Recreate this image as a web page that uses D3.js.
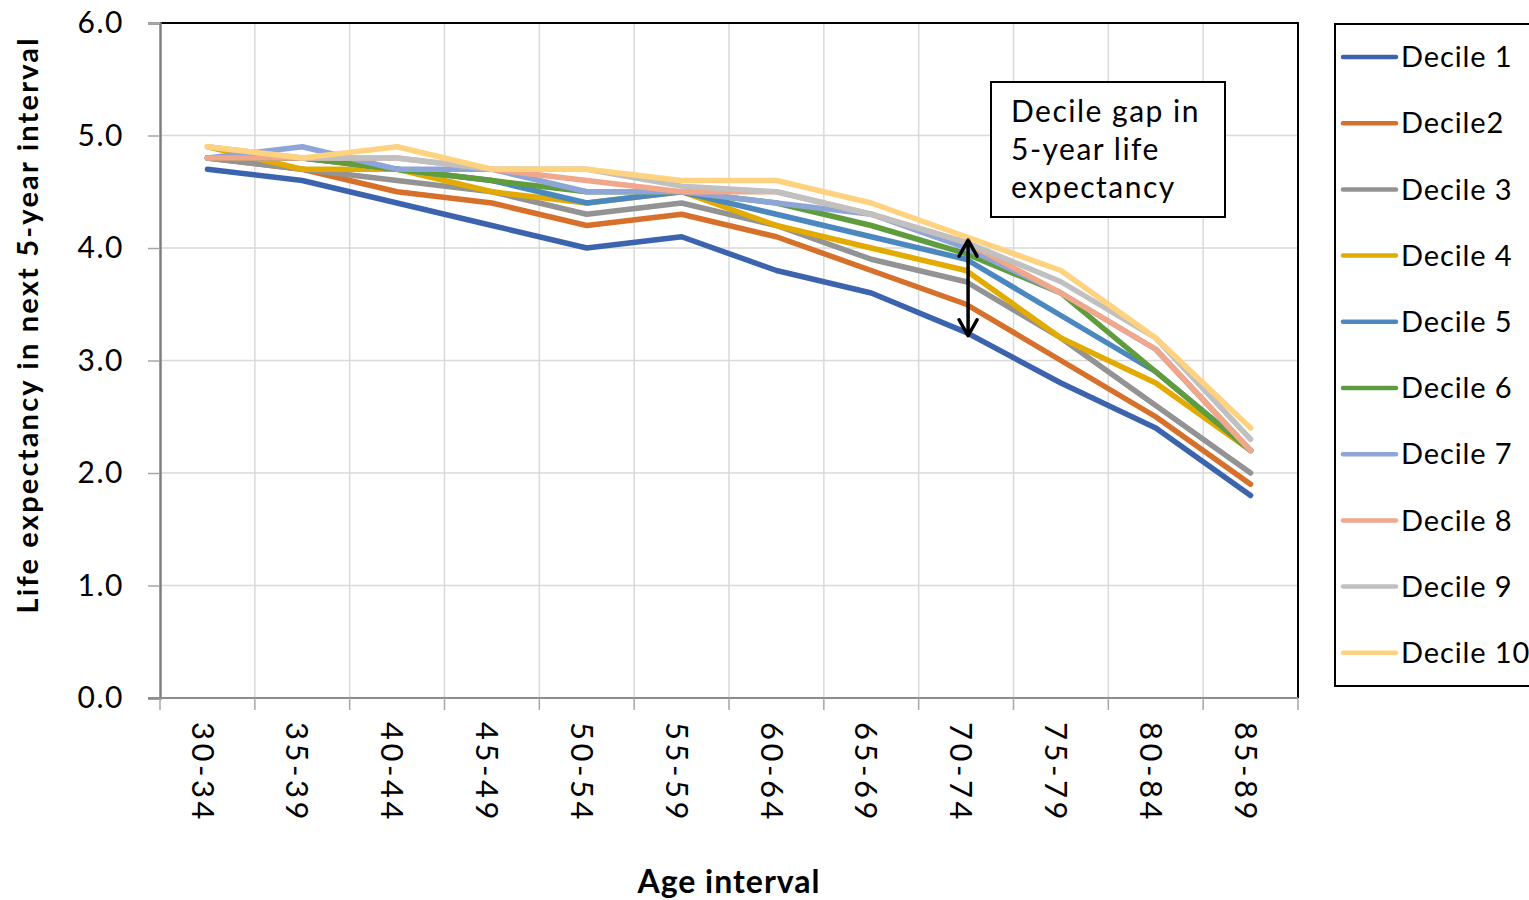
<!DOCTYPE html>
<html>
<head>
<meta charset="utf-8">
<script src="https://cdn.jsdelivr.net/npm/d3@7"></script>
<style>
  body { margin: 0; background: #fff; }
  text { font-family: Lato, "Open Sans", sans-serif; fill: #000; }
</style>
</head>
<body>
<div id="viz"></div>
<script>

// age bands on the x axis
var ages = ["30-34","35-39","40-44","45-49","50-54","55-59","60-64","65-69","70-74","75-79","80-84","85-89"];

// life expectancy in next 5-year interval, per decile
var decile1  = [4.7, 4.6, 4.4, 4.2, 4.0, 4.1, 3.8, 3.6, 3.25, 2.8, 2.4, 1.8];
var decile2  = [4.8, 4.7, 4.5, 4.4, 4.2, 4.3, 4.1, 3.8, 3.5, 3.0, 2.5, 1.9];
var decile3  = [4.8, 4.7, 4.6, 4.5, 4.3, 4.4, 4.2, 3.9, 3.7, 3.2, 2.6, 2.0];
var decile4  = [4.9, 4.7, 4.7, 4.5, 4.4, 4.5, 4.2, 4.0, 3.8, 3.2, 2.8, 2.2];
var decile5  = [4.8, 4.8, 4.7, 4.6, 4.4, 4.5, 4.3, 4.1, 3.9, 3.4, 2.9, 2.2];
var decile6  = [4.8, 4.8, 4.7, 4.6, 4.5, 4.5, 4.4, 4.2, 3.95, 3.6, 2.9, 2.2];
var decile7  = [4.8, 4.9, 4.7, 4.7, 4.5, 4.5, 4.4, 4.3, 4.0, 3.6, 3.1, 2.2];
var decile8  = [4.8, 4.8, 4.8, 4.7, 4.6, 4.5, 4.5, 4.3, 4.05, 3.6, 3.1, 2.2];
var decile9  = [4.9, 4.8, 4.8, 4.7, 4.7, 4.55, 4.5, 4.3, 4.05, 3.7, 3.2, 2.3];
var decile10 = [4.9, 4.8, 4.9, 4.7, 4.7, 4.6, 4.6, 4.4, 4.1, 3.8, 3.2, 2.4];

var seriesNames = ["Decile 1","Decile2","Decile 3","Decile 4","Decile 5","Decile 6","Decile 7","Decile 8","Decile 9","Decile 10"];
var seriesValues = [decile1, decile2, decile3, decile4, decile5, decile6, decile7, decile8, decile9, decile10];
var colors = ["#3b63ae","#d6702b","#939393","#e3aa00","#4b88bf","#5f9c3d","#8ea5d8","#f1a78a","#c0c0c0","#ffd27f"];

var yTicks = [0, 1, 2, 3, 4, 5, 6];

// the double arrow marking the gap at 70-74
var gapAge = "70-74";
var gapTop = 4.07;
var gapBottom = 3.22;
var noteLines = ["Decile gap in", "5-year life", "expectancy"];

var width = 1529;
var height = 900;
var plotL = 160, plotR = 1298, plotT = 23, plotB = 698;

var svg = d3.select("#viz")
	.append("svg")
	.attr("width", width)
	.attr("height", height);

var x = d3.scalePoint().domain(ages).range([plotL, plotR]).padding(0.5);
var xb = d3.scaleBand().domain(ages).range([plotL, plotR]);
var y = d3.scaleLinear().domain([0, 6]).range([plotB, plotT]);

// gridlines
svg.append("g")
	.selectAll("line")
	.data(yTicks.slice(1))
	.enter()
	.append("line")
	.attr("x1", plotL).attr("x2", plotR)
	.attr("y1", d=>y(d)).attr("y2", d=>y(d))
	.attr("stroke", "#d9d9d9").attr("stroke-width", 1.5);

svg.append("g")
	.selectAll("line")
	.data(ages.slice(1))
	.enter()
	.append("line")
	.attr("x1", d=>xb(d)).attr("x2", d=>xb(d))
	.attr("y1", plotT).attr("y2", plotB)
	.attr("stroke", "#d9d9d9").attr("stroke-width", 1.5);

// plot frame: black top and right
svg.append("path")
	.attr("d", `M${plotL},${plotT}H${plotR}V${plotB}`)
	.attr("fill", "none").attr("stroke", "#000").attr("stroke-width", 2);

// y axis
var yAxis = svg.append("g")
	.attr("transform", `translate(${plotL},0)`)
	.call(d3.axisLeft(y).tickValues(yTicks).tickFormat(d3.format(".1f")).tickSize(12).tickPadding(24));
yAxis.select(".domain").attr("stroke", "#7f7f7f").attr("stroke-width", 2.5);
yAxis.selectAll(".tick line").attr("stroke", "#a6a6a6").attr("stroke-width", 1.5);
yAxis.selectAll(".tick text")
	.style("font-size", "30px")
	.style("letter-spacing", "1.5px")
	.style("font-family", "Lato, sans-serif")
	.attr("fill", "#000");

// x axis: ticks at band edges, labels at centres
var xEdges = ages.map(d=>xb(d)).concat([plotR]);
svg.append("line")
	.attr("x1", plotL - 12).attr("x2", plotR)
	.attr("y1", plotB).attr("y2", plotB)
	.attr("stroke", "#8c8c8c").attr("stroke-width", 2);
svg.append("g")
	.selectAll("line")
	.data(xEdges)
	.enter()
	.append("line")
	.attr("x1", d=>d).attr("x2", d=>d)
	.attr("y1", plotB).attr("y2", plotB + 12)
	.attr("stroke", "#a6a6a6").attr("stroke-width", 1.5);

svg.append("g")
	.selectAll("text")
	.data(ages)
	.enter()
	.append("text")
	.attr("transform", d=>`translate(${x(d) - 5},${plotB + 24}) rotate(90)`)
	.attr("dy", "0.35em")
	.style("font-size", "31px")
	.style("letter-spacing", "3.5px")
	.text(d=>d);

// lines
var line = d3.line()
	.x((d, i)=>x(ages[i]))
	.y(d=>y(d));

svg.append("g")
	.selectAll("path")
	.data(seriesValues)
	.enter()
	.append("path")
	.attr("d", line)
	.attr("fill", "none")
	.attr("stroke", (d, i)=>colors[i])
	.attr("stroke-width", 5.5)
	.attr("stroke-linejoin", "round")
	.attr("stroke-linecap", "round");

// annotation box
var note = svg.append("g");
note.append("rect")
	.attr("x", 991).attr("y", 82)
	.attr("width", 234).attr("height", 135)
	.attr("fill", "#fff").attr("stroke", "#000").attr("stroke-width", 2);
note.selectAll("text")
	.data(noteLines)
	.enter()
	.append("text")
	.attr("x", 1011)
	.attr("y", (d, i)=>122 + i * 38)
	.style("font-size", "30px")
	.style("letter-spacing", "1.5px")
	.text(d=>d);

// double arrow
var ax = x(gapAge) + 2;
var ay1 = y(gapTop), ay2 = y(gapBottom);
svg.append("path")
	.attr("d", `M${ax},${ay1}V${ay2} M${ax-9},${ay1+16}L${ax},${ay1}L${ax+9},${ay1+16} M${ax-9},${ay2-16}L${ax},${ay2}L${ax+9},${ay2-16}`)
	.attr("fill", "none").attr("stroke", "#000").attr("stroke-width", 3.5)
	.attr("stroke-linecap", "round").attr("stroke-linejoin", "round");

// legend
var legend = svg.append("g");
legend.append("rect")
	.attr("x", 1335).attr("y", 24)
	.attr("width", 220).attr("height", 662)
	.attr("fill", "#fff").attr("stroke", "#000").attr("stroke-width", 2);

var items = legend.selectAll("g")
	.data(seriesNames)
	.enter()
	.append("g")
	.attr("transform", (d, i)=>`translate(0,${57 + i * 66.2})`);
items.append("line")
	.attr("x1", 1343).attr("x2", 1396)
	.attr("stroke", (d, i)=>colors[i])
	.attr("stroke-width", 4.5)
	.attr("stroke-linecap", "round");
items.append("text")
	.attr("x", 1401)
	.attr("dy", "0.35em")
	.style("font-size", "29px")
	.style("letter-spacing", "0.9px")
	.text(d=>d);

// axis titles
svg.append("text")
	.attr("transform", "translate(38,325) rotate(-90)")
	.attr("text-anchor", "middle")
	.style("font-size", "29px")
	.style("font-weight", "bold")
	.style("letter-spacing", "2.2px")
	.text("Life expectancy in next 5-year interval");

svg.append("text")
	.attr("x", 729).attr("y", 893)
	.attr("text-anchor", "middle")
	.style("font-size", "32px")
	.style("font-weight", "bold")
	.style("letter-spacing", "1px")
	.text("Age interval");

</script>
</body>
</html>
